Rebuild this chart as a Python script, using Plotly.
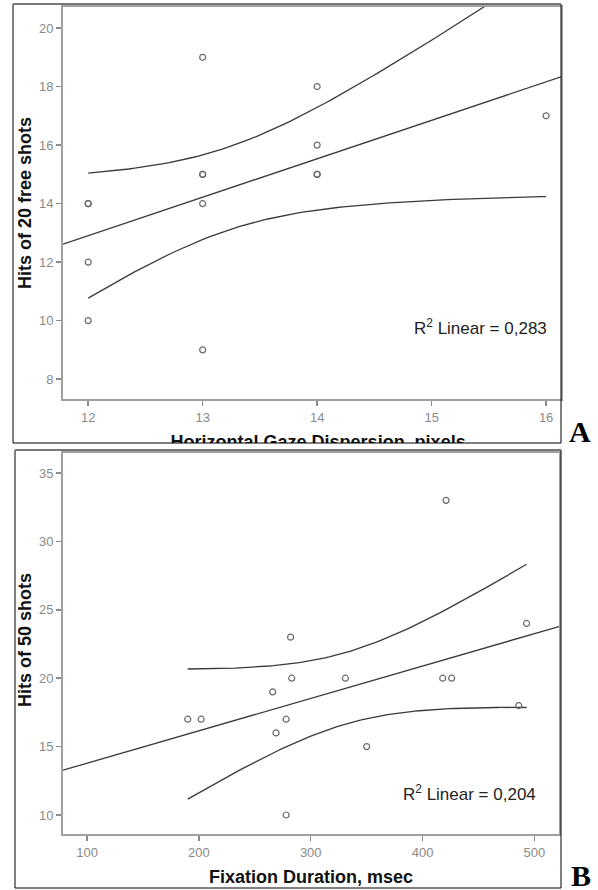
import numpy as np
import plotly.graph_objects as go

# ---------------- data ----------------
# Panel A
a_gaze_dispersion = [12, 12, 12, 12, 13, 13, 13, 13, 13, 14, 14, 14, 14, 16]
a_hits_free = [14, 14, 12, 10, 19, 15, 15, 14, 9, 18, 16, 15, 15, 17]
a_xticks = [12, 13, 14, 15, 16]
a_yticks = [8, 10, 12, 14, 16, 18, 20]
a_r2_label = "R<sup>2</sup> Linear = 0,283"
a_xtitle = "Horizontal Gaze Dispersion, pixels"
a_ytitle = "Hits of 20 free shots"

# Panel B
b_fixation = [190, 202, 266, 269, 278, 278, 283, 282, 331, 350, 418, 426, 421, 486, 493]
b_hits = [17, 17, 19, 16, 17, 10, 20, 23, 20, 15, 20, 20, 33, 18, 24]
b_xticks = [100, 200, 300, 400, 500]
b_yticks = [10, 15, 20, 25, 30, 35]
b_r2_label = "R<sup>2</sup> Linear = 0,204"
b_xtitle = "Fixation Duration, msec"
b_ytitle = "Hits of 50 shots"

# two-sided 95% Student t critical values (df = n - 2)
T_CRIT = {12: 2.1788, 13: 2.1604}

W, H = 598, 890


def px(x):
    return x / W


def py(y):
    return (H - y) / H


def fit(xs, ys, xrange_):
    x = np.asarray(xs, float)
    y = np.asarray(ys, float)
    n = len(x)
    b, a = np.polyfit(x, y, 1)
    resid = y - (a + b * x)
    s = np.sqrt(np.sum(resid ** 2) / (n - 2))
    sxx = np.sum((x - x.mean()) ** 2)
    t = T_CRIT[n - 2]
    xl = np.array(xrange_)
    yl = a + b * xl
    xg = np.linspace(x.min(), x.max(), 80)
    yg = a + b * xg
    se = s * np.sqrt(1.0 / n + (xg - x.mean()) ** 2 / sxx)
    return xl, yl, xg, yg - t * se, yg + t * se


LINE = dict(color="#3a3a3a", width=1.3)
MARK = dict(symbol="circle-open", size=6, color="#6a6a6a", line=dict(width=1.2, color="#6a6a6a"))

a_xr = [11.78, 16.13]
a_yr = [7.32, 20.72]
b_xr = [78.5, 522.0]
b_yr = [8.61, 36.46]

fig = go.Figure()

for (xs, ys, xr, xa, ya) in [
    (a_gaze_dispersion, a_hits_free, a_xr, "x", "y"),
    (b_fixation, b_hits, b_xr, "x2", "y2"),
]:
    xl, yl, xg, lo, hi = fit(xs, ys, xr)
    fig.add_trace(go.Scatter(x=xl, y=yl, mode="lines", line=LINE, xaxis=xa, yaxis=ya,
                             showlegend=False, hoverinfo="skip"))
    fig.add_trace(go.Scatter(x=xg, y=lo, mode="lines", line=LINE, xaxis=xa, yaxis=ya,
                             showlegend=False, hoverinfo="skip"))
    fig.add_trace(go.Scatter(x=xg, y=hi, mode="lines", line=LINE, xaxis=xa, yaxis=ya,
                             showlegend=False, hoverinfo="skip"))
    fig.add_trace(go.Scatter(x=xs, y=ys, mode="markers", marker=MARK, xaxis=xa, yaxis=ya,
                             showlegend=False))

TITLEFONT = dict(family="Liberation Sans, Arial", size=18, color="#111111")
R2FONT = dict(family="Liberation Sans, Arial", size=17, color="#222222")
PANELFONT = dict(family="Liberation Serif, Times New Roman", size=30, color="#000000")

# clipped x-axis title of panel A (cut off by the panel frame)
fig.add_trace(go.Scatter(x=[0.557], y=[0.0], mode="text", text=["<b>%s</b>" % a_xtitle],
                         textposition="middle center", cliponaxis=True,
                         textfont=TITLEFONT,
                         xaxis="x3", yaxis="y3", showlegend=False, hoverinfo="skip"))

TICKFONT = dict(family="Liberation Sans, Arial", size=13, color="#8a8a8a")
AX = dict(showline=True, linecolor="#a0a0a0", linewidth=2, mirror=True, ticks="outside",
          ticklen=5, tickwidth=1.5, tickcolor="#8a8a8a", showgrid=False, zeroline=False,
          tickfont=TICKFONT, fixedrange=True)

fig.update_layout(
    width=W, height=H, margin=dict(l=0, r=0, t=0, b=0),
    paper_bgcolor="white", plot_bgcolor="white",
    xaxis=dict(AX, domain=[px(63), px(561)], range=a_xr, tickvals=a_xticks, anchor="y"),
    yaxis=dict(AX, domain=[py(399), py(7)], range=a_yr, tickvals=a_yticks, anchor="x"),
    xaxis2=dict(AX, domain=[px(63), px(559)], range=b_xr, tickvals=b_xticks, anchor="y2"),
    yaxis2=dict(AX, domain=[py(834), py(453)], range=b_yr, tickvals=b_yticks, anchor="x2"),
    xaxis3=dict(domain=[px(14), px(560)], range=[0, 1], visible=False, anchor="y3", fixedrange=True),
    yaxis3=dict(domain=[py(443), py(405)], range=[0, 1], visible=False, anchor="x3", fixedrange=True),
)

ann = [
    dict(x=px(25), y=py(203), text="<b>%s</b>" % a_ytitle, textangle=-90, font=TITLEFONT),
    dict(x=px(25), y=py(640), text="<b>%s</b>" % b_ytitle, textangle=-90, font=TITLEFONT),
    dict(x=px(311), y=py(877), text="<b>%s</b>" % b_xtitle, font=TITLEFONT),
    dict(x=px(480), y=py(327), text=a_r2_label, font=R2FONT),
    dict(x=px(469), y=py(793), text=b_r2_label, font=R2FONT),
    dict(x=px(580), y=py(431), text="<b>A</b>", font=PANELFONT),
    dict(x=px(581), y=py(875), text="<b>B</b>", font=PANELFONT),
]
for a in ann:
    a.update(xref="paper", yref="paper", showarrow=False, xanchor="center", yanchor="middle")
fig.update_layout(annotations=ann)

shapes = [
    dict(type="rect", x0=px(13), x1=px(561), y0=py(443), y1=py(4), line=dict(color="#000", width=1)),
    dict(type="line", x0=px(13), x1=px(561), y0=py(4), y1=py(4), line=dict(color="#777", width=2)),
    dict(type="rect", x0=px(15), x1=px(561), y0=py(888), y1=py(450), line=dict(color="#000", width=1)),
    dict(type="line", x0=px(15), x1=px(561), y0=py(450), y1=py(450), line=dict(color="#777", width=2)),
]
for s in shapes:
    s.update(xref="paper", yref="paper", layer="above")
fig.update_layout(shapes=shapes)

fig.write_html(
    "out.html",
    config={"displayModeBar": False, "staticPlot": True},
    post_script="document.body.style.margin='0';document.body.style.overflow='hidden';",
)
